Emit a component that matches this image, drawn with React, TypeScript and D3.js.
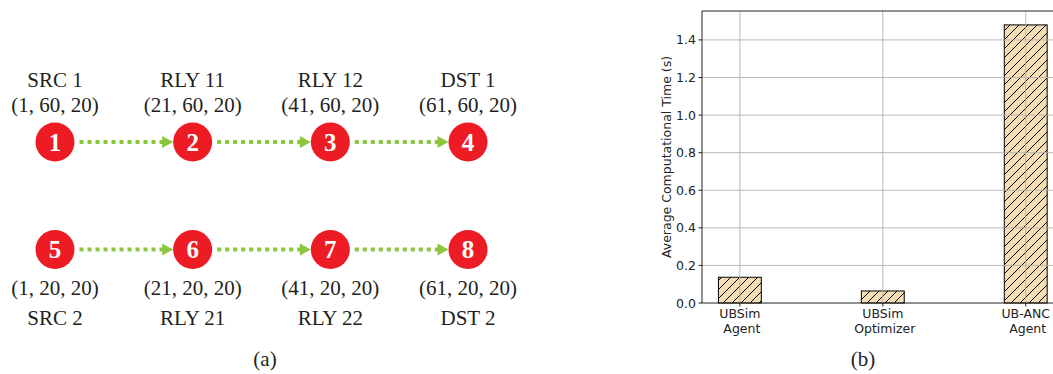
import * as d3 from "d3";

// ---- panel (a): topology ----
const nodeIds = [1, 2, 3, 4, 5, 6, 7, 8];
const nodeNames = ["SRC 1", "RLY 11", "RLY 12", "DST 1", "SRC 2", "RLY 21", "RLY 22", "DST 2"];
const nodeCoords = [
  "(1, 60, 20)", "(21, 60, 20)", "(41, 60, 20)", "(61, 60, 20)",
  "(1, 20, 20)", "(21, 20, 20)", "(41, 20, 20)", "(61, 20, 20)",
];
const links = [[1, 2], [2, 3], [3, 4], [5, 6], [6, 7], [7, 8]];

// ---- panel (b): bar chart ----
const methods = [["UBSim", " Agent"], ["UBSim", " Optimizer"], ["UB-ANC", " Agent"]];
const times = [0.137, 0.064, 1.48];
const yTicks = [0, 0.2, 0.4, 0.6, 0.8, 1.0, 1.2, 1.4];

const W = 1053;
const H = 374;
const R = 19.5;
const RED = "#ed1c24";
const GREEN = "#8cc63f";
const SERIF = "'Liberation Serif', 'Times New Roman', serif";
const SANS = "'DejaVu Sans', sans-serif";

export default function App() {
  const col = d3.scaleLinear().domain([0, 3]).range([55, 468]);
  const row = d3.scaleLinear().domain([0, 1]).range([142, 249.5]);
  const pos = (id: number) => {
    const i = id - 1;
    return { x: col(i % 4), y: row(Math.floor(i / 4)), top: i < 4 };
  };

  const x = d3.scaleLinear().domain([-0.265, 2.265]).range([702, 1063.6]);
  const y = d3.scaleLinear().domain([0, 1.554]).range([303, 11]);
  const bw = x(0.15) - x(-0.15);
  const fmt = d3.format(".1f");
  const [x0, x1] = x.range();
  const [y0, y1] = y.range();

  return (
    <svg width={W} height={H} style={{ position: "absolute", left: 0, top: 0, background: "#fff" }}>
      <defs>
        <pattern id="hatch" patternUnits="userSpaceOnUse" width={9} height={9}>
          <rect width={9} height={9} fill="#f5deb3" />
          <path d="M-1,1 l2,-2 M0,9 l9,-9 M8,10 l2,-2" stroke="#000" strokeWidth={1} />
        </pattern>
      </defs>

      {/* (a) */}
      <g>
        {links.map(([a, b], i) => {
          const p = pos(a);
          const q = pos(b);
          const tip = q.x - R;
          return (
            <g key={i}>
              <line x1={p.x + R + 5} x2={tip - 9} y1={p.y} y2={q.y}
                stroke={GREEN} strokeWidth={4} strokeDasharray="4 4" />
              <path d={`M${tip},${q.y} L${tip - 11},${q.y - 6} L${tip - 11},${q.y + 6} Z`} fill={GREEN} />
            </g>
          );
        })}
        {nodeIds.map((id, i) => {
          const p = pos(id);
          return (
            <g key={id} fontFamily={SERIF} textAnchor="middle">
              <circle cx={p.x} cy={p.y} r={R} fill={RED} />
              <text x={p.x} y={p.y + 8.5} fill="#fff" fontSize={25} fontWeight="bold">{id}</text>
              <text x={p.x} y={p.top ? p.y - 55 : p.y + 75} fontSize={21} fill="#231f20">{nodeNames[i]}</text>
              <text x={p.x} y={p.top ? p.y - 30 : p.y + 45} fontSize={21} fill="#231f20">{nodeCoords[i]}</text>
            </g>
          );
        })}
        <text x={265} y={366} fontFamily={SERIF} fontSize={21} textAnchor="middle" fill="#231f20">(a)</text>
      </g>

      {/* (b) */}
      <g fontFamily={SANS}>
        {times.map((t, i) => (
          <rect key={i} x={x(i) - bw / 2} y={y(t)} width={bw} height={y(0) - y(t)}
            fill="url(#hatch)" stroke="#000" strokeWidth={1} />
        ))}
        {yTicks.slice(1).map((t) => (
          <line key={t} x1={x0} x2={x1} y1={y(t)} y2={y(t)} stroke="#b0b0b0" strokeWidth={0.9} />
        ))}
        {times.map((_, i) => (
          <line key={i} x1={x(i)} x2={x(i)} y1={y1} y2={y0} stroke="#b0b0b0" strokeWidth={0.9} />
        ))}
        <line x1={x0} x2={x1} y1={y1} y2={y1} stroke="#222" strokeWidth={1} />
        <line x1={x0} x2={x1} y1={y0} y2={y0} stroke="#222" strokeWidth={1} />
        <line x1={x0} x2={x0} y1={y1} y2={y0} stroke="#222" strokeWidth={1} />
        {yTicks.map((t) => (
          <g key={t}>
            <line x1={x0 - 3.5} x2={x0} y1={y(t)} y2={y(t)} stroke="#222" />
            <text x={x0 - 6} y={y(t) + 4.5} fontSize={12.5} textAnchor="end" fill="#222">{fmt(t)}</text>
          </g>
        ))}
        {methods.map((lines, i) => (
          <g key={i}>
            <line x1={x(i)} x2={x(i)} y1={y0} y2={y0 + 3.5} stroke="#222" />
            {lines.map((s, j) => (
              <text key={j} x={x(i)} y={318 + j * 15} fontSize={12.5} textAnchor="middle" fill="#222"
                style={{ whiteSpace: "pre" }}>{s}</text>
            ))}
          </g>
        ))}
        <text transform={`translate(671,${(y0 + y1) / 2}) rotate(-90)`} fontSize={12.5}
          textAnchor="middle" fill="#222">Average Computational Time (s)</text>
        <text x={863} y={366} fontFamily={SERIF} fontSize={21} textAnchor="middle" fill="#231f20">(b)</text>
      </g>
    </svg>
  );
}
